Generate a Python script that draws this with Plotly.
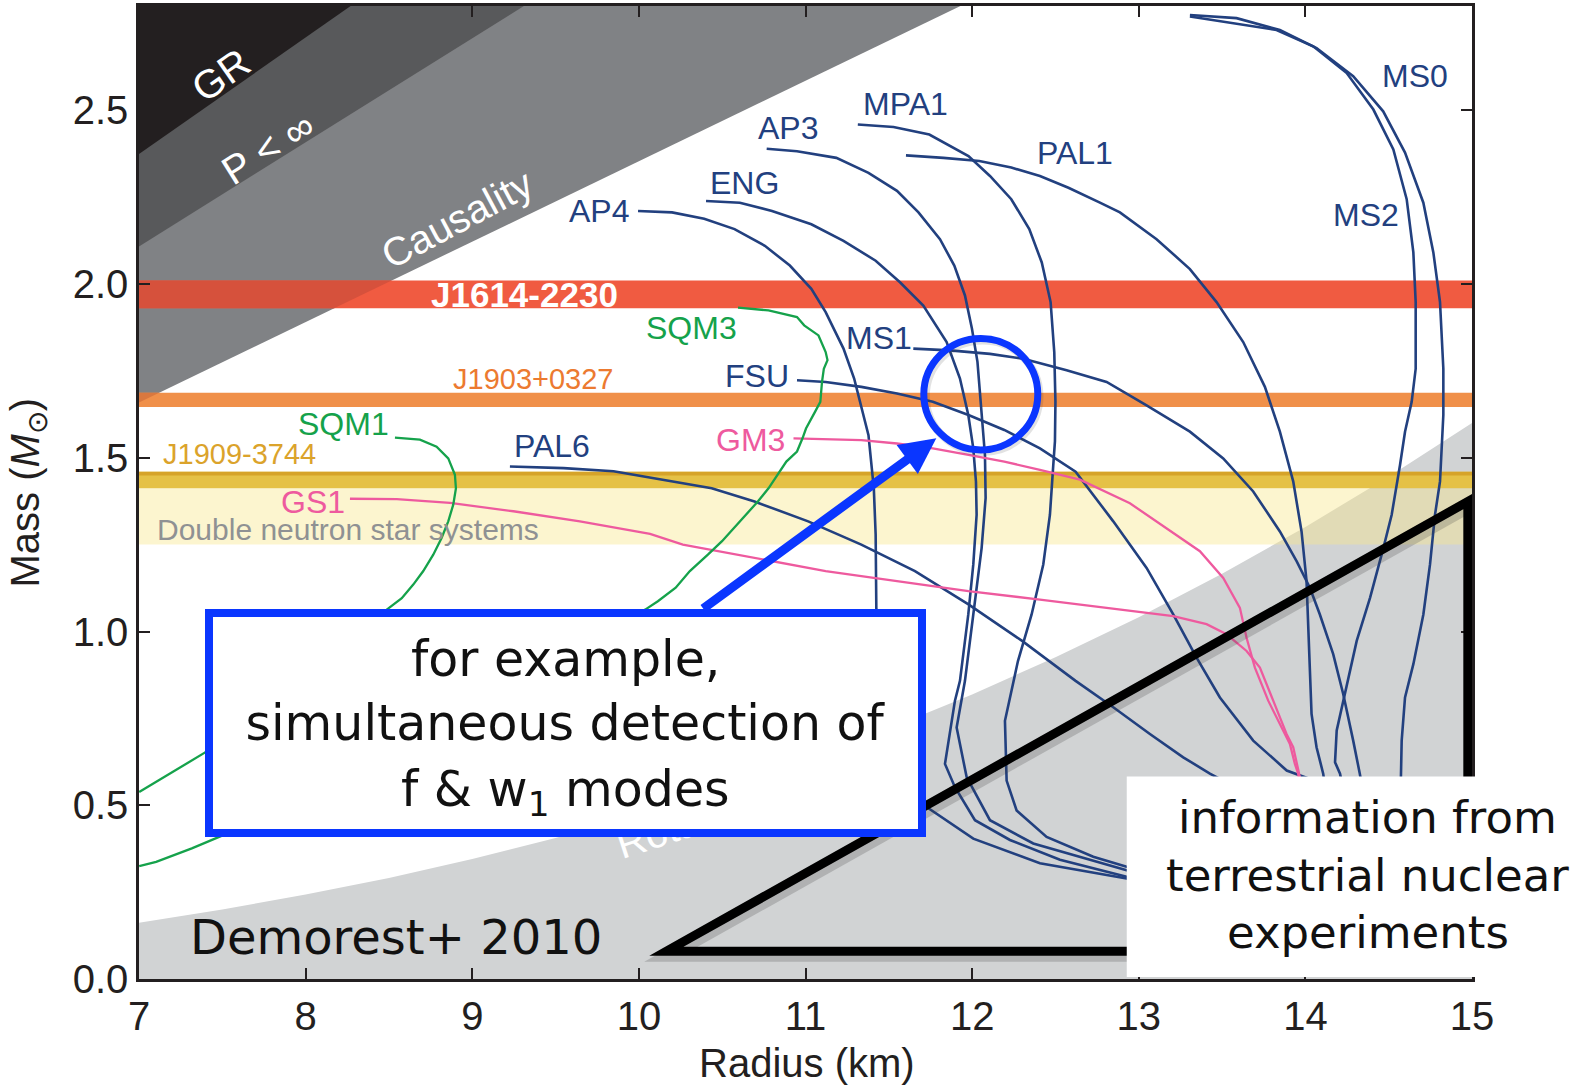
import numpy as np
import plotly.graph_objects as go

# ---------------- mass-radius relations (radius in km, mass in solar masses) ----------------
AP4_R = [9.995, 10.199, 10.392, 10.574, 10.756, 10.906, 11.035, 11.121, 11.228, 11.292, 11.378, 11.410,
         11.421, 11.425, 11.45, 11.58, 11.727, 12.007, 12.407, 12.927, 13.30]
AP4_M = [2.210, 2.206, 2.188, 2.158, 2.110, 2.053, 1.986, 1.919, 1.814, 1.728, 1.565, 1.412,
         1.279, 1.068, 0.80, 0.56, 0.495, 0.404, 0.333, 0.289, 0.270]

ENG_R = [10.403, 10.606, 10.799, 11.035, 11.228, 11.421, 11.567, 11.707, 11.847, 11.927, 11.977, 12.007,
         12.023, 12.027, 12.007, 11.977, 11.927, 11.897, 11.837, 11.897, 12.017, 12.227, 12.527, 12.927, 13.25]
ENG_M = [2.239, 2.234, 2.210, 2.172, 2.124, 2.067, 2.005, 1.938, 1.833, 1.728, 1.623, 1.527,
         1.431, 1.336, 1.193, 1.049, 0.858, 0.801, 0.619, 0.552, 0.457, 0.400, 0.343, 0.294, 0.273]

AP3_R = [10.767, 10.949, 11.185, 11.378, 11.549, 11.678, 11.807, 11.893, 11.957, 11.999, 12.032, 12.053,
         12.077, 12.081, 12.057, 12.007, 11.957, 11.907, 11.967, 12.107, 12.367, 12.927, 13.25]
AP3_M = [2.389, 2.382, 2.363, 2.320, 2.268, 2.206, 2.129, 2.053, 1.967, 1.871, 1.776, 1.661,
         1.508, 1.384, 1.240, 1.049, 0.858, 0.724, 0.581, 0.457, 0.390, 0.313, 0.285]

MPA1_R = [11.314, 11.528, 11.743, 11.978, 12.107, 12.235, 12.343, 12.418, 12.471, 12.493, 12.500, 12.497,
          12.487, 12.467, 12.427, 12.357, 12.275, 12.197, 12.207, 12.267, 12.447, 12.727, 12.927, 13.25]
MPA1_M = [2.459, 2.452, 2.430, 2.368, 2.311, 2.244, 2.158, 2.062, 1.948, 1.804, 1.661, 1.547,
          1.479, 1.336, 1.193, 1.049, 0.915, 0.743, 0.571, 0.485, 0.409, 0.352, 0.323, 0.296]

PAL1_R = [11.603, 11.828, 12.043, 12.235, 12.407, 12.578, 12.767, 12.887, 13.107, 13.307, 13.467, 13.627,
          13.757, 13.847, 13.927, 13.977, 14.007, 14.023, 14.037, 14.067, 14.107, 14.147]
PAL1_M = [2.370, 2.363, 2.354, 2.335, 2.311, 2.277, 2.234, 2.206, 2.129, 2.043, 1.948, 1.833,
          1.704, 1.575, 1.432, 1.288, 1.145, 0.954, 0.763, 0.667, 0.591, 0.457]

MS0_R = [13.307, 13.587, 13.847, 14.067, 14.287, 14.467, 14.598, 14.708, 14.768, 14.808, 14.828, 14.828,
         14.808, 14.778, 14.748, 14.708, 14.648, 14.598, 14.578, 14.574, 14.568]
MS0_M = [2.774, 2.765, 2.731, 2.679, 2.598, 2.497, 2.378, 2.234, 2.091, 1.948, 1.756, 1.623,
         1.432, 1.336, 1.193, 1.049, 0.906, 0.810, 0.686, 0.581, 0.457]

MS2_R = [13.307, 13.827, 14.047, 14.248, 14.408, 14.528, 14.608, 14.648, 14.662, 14.662, 14.638, 14.598,
         14.568, 14.518, 14.468, 14.388, 14.308, 14.228, 14.188, 14.178, 14.208, 14.24]
MS2_M = [2.770, 2.731, 2.684, 2.607, 2.502, 2.387, 2.244, 2.091, 1.948, 1.756, 1.661, 1.575,
         1.479, 1.336, 1.240, 1.097, 0.973, 0.801, 0.715, 0.624, 0.591, 0.514]

MS1_R = [11.647, 11.867, 12.107, 12.307, 12.567, 12.807, 13.047, 13.307, 13.507, 13.687, 13.847, 13.948,
         14.027, 14.087, 14.167, 14.227, 14.287, 14.327, 14.376]
MS1_M = [1.814, 1.809, 1.799, 1.785, 1.752, 1.718, 1.651, 1.575, 1.498, 1.403, 1.288, 1.202,
         1.126, 1.049, 0.935, 0.820, 0.686, 0.590, 0.457]

FSU_R = [10.949, 11.121, 11.335, 11.549, 11.764, 11.978, 12.193, 12.407, 12.621, 12.847, 13.047, 13.207,
         13.347, 13.487, 13.687, 13.888, 14.03, 14.2]
FSU_M = [1.723, 1.718, 1.704, 1.685, 1.661, 1.623, 1.580, 1.527, 1.460, 1.317, 1.183, 1.049,
         0.925, 0.810, 0.686, 0.600, 0.575, 0.50]

PAL6_R = [9.226, 9.548, 9.848, 10.068, 10.437, 10.694, 11.016, 11.335, 11.657, 11.978, 12.300, 12.621,
          12.847, 13.067, 13.267, 13.427, 13.73]
PAL6_M = [1.475, 1.470, 1.461, 1.442, 1.412, 1.374, 1.317, 1.250, 1.174, 1.078, 0.973, 0.858,
          0.782, 0.705, 0.638, 0.591, 0.514]

GM3_R = [10.928, 11.335, 11.549, 11.764, 11.978, 12.193, 12.407, 12.647, 12.947, 13.167, 13.367, 13.507,
         13.607, 13.647, 13.697, 13.777, 13.857, 13.907, 13.937, 13.957, 13.98]
GM3_M = [1.556, 1.551, 1.541, 1.527, 1.508, 1.489, 1.465, 1.437, 1.369, 1.298, 1.231, 1.154,
         1.068, 0.982, 0.896, 0.801, 0.724, 0.676, 0.619, 0.590, 0.514]

GS1_R = [8.266, 8.547, 8.867, 9.247, 9.646, 10.067, 10.264, 10.693, 11.121, 11.549, 11.978, 12.407,
         12.807, 13.207, 13.407, 13.527, 13.647, 13.727, 13.807, 13.887, 13.927, 13.967, 13.99]
GS1_M = [1.382, 1.381, 1.370, 1.346, 1.317, 1.281, 1.250, 1.212, 1.174, 1.145, 1.116, 1.092,
         1.068, 1.044, 1.021, 0.992, 0.944, 0.896, 0.801, 0.705, 0.667, 0.581, 0.514]

SQM3_R = [10.595, 10.778, 10.949, 10.992, 11.078, 11.121, 11.132, 11.110, 11.099, 11.089, 11.057, 11.003,
          10.982, 10.949, 10.885, 10.843, 10.778, 10.714, 10.606, 10.499, 10.414, 10.306, 10.221, 10.114,
          10.038, 9.3, 8.5, 7.8, 7.531, 7.317, 7.103, 7.001]
SQM3_M = [1.932, 1.924, 1.905, 1.881, 1.852, 1.804, 1.781, 1.756, 1.718, 1.661, 1.632, 1.584,
          1.556, 1.518, 1.489, 1.460, 1.412, 1.374, 1.317, 1.260, 1.221, 1.174, 1.126, 1.087,
          1.063, 0.86, 0.66, 0.47, 0.419, 0.376, 0.337, 0.325]

SQM1_R = [8.536, 8.686, 8.786, 8.856, 8.896, 8.902, 8.886, 8.856, 8.816, 8.766, 8.706, 8.646,
          8.577, 8.487, 8.2, 7.8, 7.397, 7.001]
SQM1_M = [1.558, 1.552, 1.532, 1.498, 1.451, 1.412, 1.365, 1.317, 1.269, 1.221, 1.174, 1.135,
          1.096, 1.063, 0.95, 0.82, 0.652, 0.538]

# ---------------- measured pulsar masses (solar masses) ----------------
J1614_BAND = [1.930, 2.010]
J1903_BAND = [1.646, 1.687]
J1909_BAND = [1.412, 1.460]
J1909_EDGE = [1.449, 1.460]
DNS_BAND = [1.250, 1.412]

# ---------------- excluded regions ----------------
GR_R, GR_M = [7.0, 8.27], [2.374, 2.80]
PINF_R, PINF_M = [7.0, 9.31], [2.108, 2.80]
CAUS_R, CAUS_M = [7.0, 11.93], [1.659, 2.80]
ROT_R = [7.0, 7.5, 8.0, 8.5, 9.0, 9.5, 10.0, 10.5, 11.0, 11.5, 12.0, 12.5, 13.0, 13.5, 14.0, 14.5, 15.0]
ROT_M = [0.162, 0.200, 0.243, 0.291, 0.345, 0.406, 0.474, 0.549, 0.631, 0.721, 0.819, 0.926,
         1.041, 1.166, 1.301, 1.445, 1.600]

X_TICKS = [7, 8, 9, 10, 11, 12, 13, 14, 15]
Y_TICKS = [0.0, 0.5, 1.0, 1.5, 2.0, 2.5]

# ---------------- styling ----------------
NAVY = "#22407f"
PINK = "#ee5a9e"
GREEN = "#15a24b"
BLUE = "#0a36ff"
AXIS = "#231f20"
INK = "#111111"
SANS = "Liberation Sans, Arial, sans-serif"
HAND = "DejaVu Sans, sans-serif"


def poly(xs, ys):
    pts = " L ".join(f"{x:.4f},{y:.4f}" for x, y in zip(xs, ys))
    return f"M {pts} Z"


fig = go.Figure()

shapes = []
# light-grey rotation limit (lower right)
shapes.append(dict(type="path", path=poly(ROT_R + [15.2, 6.8, 6.8], ROT_M + [-0.1, -0.1, ROT_M[0]]),
                   fillcolor="#d1d3d4", line=dict(width=0), layer="below"))
# causality, finite pressure, GR wedges
for er, em, col in [(CAUS_R, CAUS_M, "#808285"), (PINF_R, PINF_M, "#58595b"), (GR_R, GR_M, "#231f20")]:
    xs = [6.8, er[0], er[1], er[1], 6.8]
    ys = [em[0], em[0], em[1], 3.0, 3.0]
    shapes.append(dict(type="path", path=poly(xs, ys), fillcolor=col, line=dict(width=0), layer="below"))


def band(lo_hi, color):
    shapes.append(dict(type="rect", x0=6.8, x1=15.2, y0=lo_hi[0], y1=lo_hi[1], fillcolor=color,
                       line=dict(width=0), layer="below"))


def band_in_causal(lo_hi, color):
    lo = max(lo_hi[0], CAUS_M[0])
    hi = lo_hi[1]
    r_lo = float(np.interp(lo, CAUS_M, CAUS_R))
    r_hi = float(np.interp(hi, CAUS_M, CAUS_R))
    shapes.append(dict(type="path", path=poly([6.8, r_lo, r_hi, 6.8], [lo, lo, hi, hi]),
                       fillcolor=color, line=dict(width=0), layer="below"))


band(J1614_BAND, "#f05b41")
band_in_causal(J1614_BAND, "#d6513c")
band(J1903_BAND, "#f0904a")
band_in_causal(J1903_BAND, "#d9783f")
band(DNS_BAND, "rgba(247,232,140,0.42)")
band(J1909_BAND, "#e5c146")
band(J1909_EDGE, "#d6a329")

# terrestrial-experiment triangle and the highlighted crossing region
TRI_R = [10.166, 14.975, 14.975]
TRI_M = [0.080, 1.374, 0.080]
shapes.append(dict(type="path", path=poly([r + 0.015 for r in TRI_R], [m - 0.012 for m in TRI_M]),
                   line=dict(color="rgba(60,60,60,0.22)", width=13), layer="above"))
shapes.append(dict(type="path", path=poly(TRI_R, TRI_M), line=dict(color="black", width=9), layer="above"))
shapes.append(dict(type="circle", x0=11.722, x1=12.404, y0=1.5165, y1=1.8375,
                   line=dict(color="rgba(60,60,60,0.15)", width=8), layer="above"))
shapes.append(dict(type="circle", x0=11.710, x1=12.394, y0=1.5225, y1=1.8435,
                   line=dict(color=BLUE, width=7), layer="above"))
# white panel for the nuclear-experiment note (covers the lower right corner)
shapes.append(dict(type="rect", xref="paper", yref="paper", x0=0.741, x1=1.08, y0=0.002, y1=0.208,
                   fillcolor="white", line=dict(width=0), layer="above"))

curves = [
    (AP4_R, AP4_M, NAVY), (ENG_R, ENG_M, NAVY), (AP3_R, AP3_M, NAVY), (MPA1_R, MPA1_M, NAVY),
    (PAL1_R, PAL1_M, NAVY), (MS0_R, MS0_M, NAVY), (MS2_R, MS2_M, NAVY), (MS1_R, MS1_M, NAVY),
    (FSU_R, FSU_M, NAVY), (PAL6_R, PAL6_M, NAVY),
    (GM3_R, GM3_M, PINK), (GS1_R, GS1_M, PINK),
    (SQM3_R, SQM3_M, GREEN), (SQM1_R, SQM1_M, GREEN),
]
for r, m, c in curves:
    fig.add_trace(go.Scatter(x=r, y=m, mode="lines", line=dict(color=c, width=2.6 if c == NAVY else 2.3),
                             hoverinfo="skip", showlegend=False))

ann = []


def label(text, x, y, color, size=32, family=SANS, **kw):
    d = dict(text=text, x=x, y=y, xref="x", yref="y", showarrow=False,
             font=dict(family=family, size=size, color=color), xanchor="center", yanchor="middle")
    d.update(kw)
    ann.append(d)


# curve names
label("MS0", 14.655, 2.598, NAVY)
label("MS2", 14.366, 2.198, NAVY)
label("MPA1", 11.598, 2.517, NAVY)
label("AP3", 10.894, 2.448, NAVY)
label("PAL1", 12.615, 2.377, NAVY)
label("ENG", 10.635, 2.290, NAVY)
label("AP4", 9.763, 2.210, NAVY)
label("MS1", 11.442, 1.844, NAVY)
label("FSU", 10.706, 1.736, NAVY)
label("PAL6", 9.480, 1.535, NAVY)
label("GM3", 10.671, 1.551, PINK)
label("GS1", 8.047, 1.374, PINK)
label("SQM3", 10.316, 1.873, GREEN)
label("SQM1", 8.229, 1.598, GREEN)

# pulsar and region labels
label("<b>J1614-2230</b>", 9.311, 1.969, "white", size=35)
label("J1903+0327", 9.366, 1.727, "#ec7a30", size=29)
label("J1909-3744", 7.603, 1.511, "#dba32b", size=29)
label("Double neutron star systems", 8.253, 1.294, "#8f9193", size=30)
label("GR", 7.492, 2.601, "white", size=40, textangle=-35)
label("P < ∞", 7.772, 2.392, "white", size=40, textangle=-32)
label("Causality", 8.909, 2.186, "white", size=40, textangle=-28)
label("Rotation", 10.295, 0.450, "white", size=40, textangle=-18)

# arrow towards the highlighted region
ann.append(dict(x=11.785, y=1.556, ax=10.377, ay=1.063, xref="x", yref="y", axref="x", ayref="y",
                text="", showarrow=True, arrowhead=2, arrowsize=0.8, arrowwidth=9, arrowcolor=BLUE,
                standoff=0))

# callout box (carries its middle line), with the outer lines on top
ann.append(dict(text="simultaneous detection of", x=9.560, y=0.7365, xref="x", yref="y", showarrow=False,
                xanchor="center", yanchor="middle", width=705, height=212, bgcolor="white",
                bordercolor=BLUE, borderwidth=8, borderpad=0, valign="middle",
                font=dict(family=HAND, size=49, color=INK)))
label("for example,", 9.558, 0.919, INK, size=49, family=HAND)
label("f &amp; w<sub>1</sub> modes", 9.558, 0.537, INK, size=49, family=HAND)

label("Demorest+ 2010", 8.541, 0.120, INK, size=48, family=HAND)

# note on the white panel
label("information from", 14.373, 0.465, INK, size=45, family=HAND)
label("terrestrial nuclear", 14.373, 0.298, INK, size=45, family=HAND)
label("experiments", 14.373, 0.135, INK, size=45, family=HAND)

# axis titles
ann.append(dict(text="Radius (km)", x=0.501, y=-0.086, xref="paper", yref="paper", showarrow=False,
                xanchor="center", yanchor="middle", font=dict(family=SANS, size=40, color=AXIS)))
ann.append(dict(text="Mass (<i>M</i><sub>⊙</sub>)", x=-0.084, y=0.50, xref="paper", yref="paper",
                showarrow=False, xanchor="center", yanchor="middle", textangle=-90,
                font=dict(family=SANS, size=40, color=AXIS)))

axis_common = dict(showgrid=False, zeroline=False, ticks="inside", ticklen=11, tickwidth=2, tickcolor=AXIS,
                   showline=True, linecolor=AXIS, linewidth=2.5, mirror="ticks",
                   tickfont=dict(family=SANS, size=40, color=AXIS))

fig.update_layout(
    width=1572, height=1088, autosize=False,
    margin=dict(l=139, r=100, t=3, b=109),
    paper_bgcolor="white", plot_bgcolor="white",
    showlegend=False,
    shapes=shapes, annotations=ann,
    xaxis=dict(range=[7, 15], tickvals=X_TICKS, ticktext=[str(t) for t in X_TICKS], **axis_common),
    yaxis=dict(range=[0, 2.8], tickvals=Y_TICKS, ticktext=[f"{t:.1f}" for t in Y_TICKS], **axis_common),
)

fig.write_html("out.html")
